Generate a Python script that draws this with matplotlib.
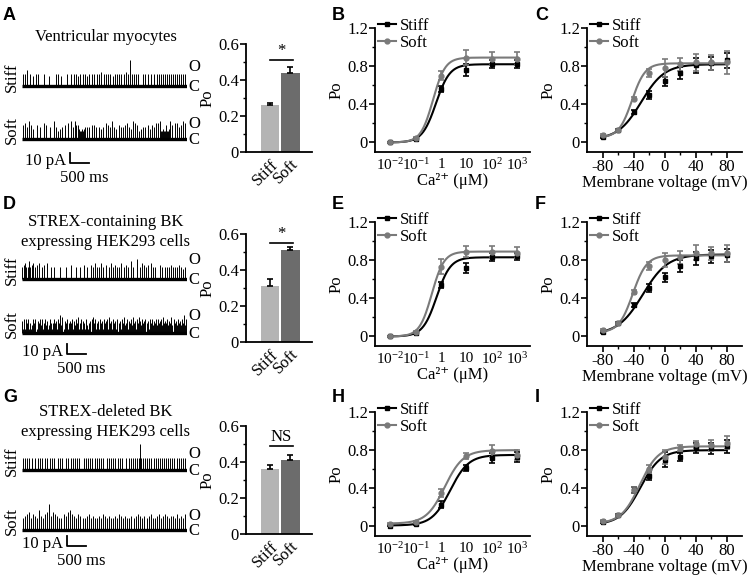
import numpy as np
import matplotlib.pyplot as plt
from matplotlib.lines import Line2D
from matplotlib.ticker import MultipleLocator, FixedLocator, FixedFormatter, NullLocator

plt.rcParams['font.family'] = ['Liberation Serif', 'DejaVu Serif']
plt.rcParams['mathtext.fontset'] = 'custom'
plt.rcParams['mathtext.rm'] = 'Liberation Serif'
plt.rcParams['mathtext.it'] = 'Liberation Serif:italic'
plt.rcParams['axes.linewidth'] = 1.3
plt.rcParams['axes.unicode_minus'] = False

# ---------------- data ----------------
conditions = ['Stiff', 'Soft']
letters = [['A', 'B', 'C'], ['D', 'E', 'F'], ['G', 'H', 'I']]
cell_titles = ['Ventricular myocytes',
               'STREX-containing BK\nexpressing HEK293 cells',
               'STREX-deleted BK\nexpressing HEK293 cells']

# single channel records: one char per column, hex digit = amplitude / 2 pA
trace_stiff = [
    "0606080060050060600000600005000000606005000060006006060506006060506006"
    "0600606070060606060050606060600607060d060606060000606060060060060606"
    "06060606060606060606060609",
    "6078606960780607080060700800600600000600000600007000060006000700600070"
    "6080606080607006080607060608006070600906000a006080706070080606000706"
    "0060606070606060706050606",
    "0606060600606006060600606006060600606060006060060606060600060606060600"
    "6060606060060606060600606060006060606060606d606060606060606060606060"
    "606060606060606060606",
]
trace_soft = [
    "0708060907050070060008070006000906040506070080090609707544545606060707"
    "0600605060080706090605070606070806050908070405060607050706080809445447"
    "44590708080607090809",
    "6272757252475726574725746247525756275948265725657264758257265274256785"
    "7256275627567285627562756275845726574856275864756756275746574756748565"
    "74658475647564759475",
    "06070809060807060a070608090d0709080706060807090a08070608070060607080607"
    "0606070608070607060607060807060706060700607080706070607080606070806070"
    "80706070706080607060807",
]

bar_po = [[0.26, 0.44], [0.31, 0.51], [0.36, 0.41]]
bar_err = [[0.015, 0.03], [0.04, 0.02], [0.025, 0.03]]
bar_sig = ['*', '*', 'NS']
bar_sig_y = [0.51, 0.55, 0.49]

ca_conc = [0.01, 0.1, 1, 10, 100, 1000]
ca_labels = ['10$^{-2}$', '10$^{-1}$', '1', '10', '10$^{2}$', '10$^{3}$']
ca_stiff = [[0.0, 0.04, 0.56, 0.76, 0.82, 0.82],
            [0.0, 0.04, 0.54, 0.72, 0.83, 0.84],
            [0.01, 0.03, 0.23, 0.61, 0.72, 0.73]]
ca_stiff_err = [[0.005, 0.01, 0.03, 0.06, 0.04, 0.04],
                [0.005, 0.01, 0.03, 0.05, 0.04, 0.04],
                [0.005, 0.01, 0.04, 0.03, 0.05, 0.05]]
ca_soft = [[0.0, 0.05, 0.70, 0.89, 0.88, 0.88],
           [0.0, 0.05, 0.73, 0.89, 0.89, 0.88],
           [0.03, 0.05, 0.35, 0.74, 0.79, 0.75]]
ca_soft_err = [[0.005, 0.01, 0.05, 0.08, 0.07, 0.07],
               [0.005, 0.01, 0.08, 0.06, 0.06, 0.06],
               [0.005, 0.01, 0.04, 0.03, 0.06, 0.05]]
# Hill fits: bottom, top, K (uM), n
ca_fit_stiff = [(0.0, 0.82, 0.63, 1.6), (0.0, 0.83, 0.67, 1.6), (0.01, 0.75, 2.3, 1.2)]
ca_fit_soft = [(0.0, 0.89, 0.48, 1.8), (0.0, 0.89, 0.43, 1.8), (0.03, 0.80, 1.4, 1.2)]

volt = [-80, -60, -40, -20, 0, 20, 40, 60, 80]
v_stiff = [[0.06, 0.13, 0.32, 0.50, 0.64, 0.73, 0.81, 0.83, 0.86],
           [0.05, 0.14, 0.33, 0.51, 0.62, 0.74, 0.82, 0.84, 0.85],
           [0.05, 0.12, 0.38, 0.53, 0.70, 0.73, 0.82, 0.82, 0.84]]
v_stiff_err = [[0.01, 0.01, 0.02, 0.04, 0.05, 0.06, 0.08, 0.07, 0.08],
               [0.01, 0.01, 0.02, 0.04, 0.05, 0.06, 0.07, 0.07, 0.07],
               [0.01, 0.01, 0.03, 0.04, 0.08, 0.04, 0.05, 0.06, 0.07]]
v_soft = [[0.08, 0.13, 0.46, 0.73, 0.78, 0.82, 0.84, 0.84, 0.84],
          [0.07, 0.14, 0.47, 0.74, 0.80, 0.83, 0.88, 0.87, 0.87],
          [0.06, 0.12, 0.38, 0.60, 0.73, 0.82, 0.86, 0.85, 0.88]]
v_soft_err = [[0.01, 0.01, 0.02, 0.04, 0.09, 0.07, 0.09, 0.08, 0.12],
              [0.01, 0.01, 0.02, 0.04, 0.07, 0.07, 0.08, 0.07, 0.09],
              [0.01, 0.01, 0.03, 0.04, 0.07, 0.03, 0.04, 0.06, 0.07]]
# Boltzmann fits: bottom, top, V1/2 (mV), slope (mV)
v_fit_stiff = [(0.03, 0.82, -30, 15), (0.02, 0.86, -28, 16), (0.02, 0.80, -31, 13)]
v_fit_soft = [(0.05, 0.83, -42, 8.5), (0.04, 0.85, -41, 9), (0.03, 0.84, -32, 12)]

# ---------------- layout ----------------
W, H = 747, 576
fig = plt.figure(figsize=(W / 100, H / 100), dpi=100)

def rect(x0, y0, x1, y1):
    return [x0 / W, 1 - y1 / H, (x1 - x0) / W, (y1 - y0) / H]

def ftext(x, y, s, **kw):
    fig.text(x / W, 1 - y / H, s, **kw)

black, grey = '#000000', '#7a7a7a'
bar_colors = ['#b4b4b4', '#6c6c6c']
fs = 12

letter_y = [15, 204, 397]
bar_off = [0, 190, 382]
curve_off = [0, 194, 384]
title_y = [37, 232, 422]
base_px = [(86, 139), (279, 333), (470, 530)]
open_dy = [(19, 15), (19, 17), (16, 14)]
sbar_y = [163, 354, 546]
sbar_x = [70, 67, 67]
trace_ms = 4400.0
tx0, tx1 = 22, 187


def style_po_axis(ax):
    for s in ['top', 'right']:
        ax.spines[s].set_visible(False)
    ax.tick_params(axis='y', which='major', length=4, width=1.2, labelsize=fs, pad=1)
    ax.tick_params(axis='y', which='minor', length=2.5, width=1.0)
    ax.set_ylabel('Po', fontsize=fs, labelpad=2)


for r in range(3):
    # panel letters
    for x, L in zip([3, 332, 535], letters[r]):
        ftext(x, letter_y[r], L, fontsize=13, fontweight='bold', family='Liberation Sans',
              ha='left', va='center')

    # ---- single channel traces ----
    top_px, bot_px = base_px[r][0] - 40, sbar_y[r] + 3
    ax = fig.add_axes(rect(tx0, top_px, tx1, bot_px))
    ax.set_xlim(0, trace_ms)
    ax.set_ylim(0, bot_px - top_px)
    ax.axis('off')
    ftext(106, title_y[r], cell_titles[r], fontsize=fs, ha='center', va='center',
          linespacing=1.25)
    for k, (code, name) in enumerate(zip([trace_stiff[r], trace_soft[r]], conditions)):
        amp = np.array([int(c, 16) for c in code]) * 2.0
        t = np.linspace(0, trace_ms, len(amp))
        b = bot_px - base_px[r][k]
        m = amp > 0
        ax.vlines(t[m], b, b + amp[m], color='k', lw=0.7)
        ax.plot([0, trace_ms], [b, b], color='k', lw=2.4, solid_capstyle='butt')
        ftext(tx1 + 1, base_px[r][k] - open_dy[r][k], 'O', fontsize=fs, ha='left', va='center')
        ftext(tx1 + 1, base_px[r][k] + 1, 'C', fontsize=fs, ha='left', va='center')
        ftext(12, base_px[r][k] - 9, name, fontsize=fs, rotation=90, ha='center', va='center')
    # scale bar 10 pA / 500 ms
    sx = (sbar_x[r] - tx0) / (tx1 - tx0) * trace_ms
    sy = bot_px - sbar_y[r]
    ax.plot([sx, sx, sx + 500], [sy + 10, sy, sy], color='k', lw=1.3, clip_on=False)
    ftext(sbar_x[r] - 4, sbar_y[r] - 2, '10 pA', fontsize=fs, ha='right', va='center')
    ftext(sbar_x[r] + 14, sbar_y[r] + 15, '500 ms', fontsize=fs, ha='center', va='center')

    # ---- bar chart ----
    oy = bar_off[r]
    ax = fig.add_axes(rect(246, 44 + oy, 312, 152 + oy))
    xb = np.arange(len(conditions))
    ax.bar(xb, bar_po[r], width=0.9, color=bar_colors,
           yerr=[[0, 0], bar_err[r]], capsize=2.5,
           error_kw=dict(elinewidth=1.2, capthick=1.2, ecolor='k'))
    ax.set_xlim(-1.17, 2.05)
    ax.set_ylim(0, 0.6)
    ax.yaxis.set_major_locator(FixedLocator([0, 0.2, 0.4, 0.6]))
    ax.yaxis.set_major_formatter(FixedFormatter(['0', '0.2', '0.4', '0.6']))
    ax.yaxis.set_minor_locator(MultipleLocator(0.1))
    ax.set_xticks(xb)
    ax.set_xticklabels(conditions, rotation=45, ha='right', rotation_mode='anchor', fontsize=fs)
    ax.tick_params(axis='x', length=0, pad=3)
    style_po_axis(ax)
    ax.plot([0, 1.1], [bar_sig_y[r]] * 2, color='k', lw=1.2, clip_on=False)
    ax.text(0.55, bar_sig_y[r] + 0.005, bar_sig[r], ha='center', va='bottom', fontsize=fs)

    # ---- Ca2+ dependence ----
    oy = curve_off[r]
    ax = fig.add_axes(rect(375, 28 + oy, 530, 152 + oy))
    ax.set_xscale('log')
    cc = np.logspace(-2, 3, 300)
    for vals, errs, fit, col, mk in [(ca_stiff[r], ca_stiff_err[r], ca_fit_stiff[r], black, 's'),
                                     (ca_soft[r], ca_soft_err[r], ca_fit_soft[r], grey, 'o')]:
        lo, hi, K, n = fit
        ax.plot(cc, lo + (hi - lo) * cc ** n / (K ** n + cc ** n), color=col, lw=1.5)
        ax.errorbar(ca_conc, vals, yerr=errs, fmt=mk, color=col, ms=3.5,
                    capsize=2.5, elinewidth=1.2, capthick=1.2)
    ax.set_xlim(10 ** -2.6, 10 ** 3.5)
    ax.xaxis.set_major_locator(FixedLocator(ca_conc))
    ax.xaxis.set_major_formatter(FixedFormatter(ca_labels))
    ax.xaxis.set_minor_locator(NullLocator())
    ax.tick_params(axis='x', length=0, pad=4, labelsize=11)
    ax.set_xlabel('Ca\u00b2\u207a (\u03bcM)', fontsize=fs, labelpad=0)
    ax.set_ylim(-0.1, 1.2)
    ax.yaxis.set_major_locator(FixedLocator([0, 0.4, 0.8, 1.2]))
    ax.yaxis.set_major_formatter(FixedFormatter(['0', '0.4', '0.8', '1.2']))
    ax.yaxis.set_minor_locator(MultipleLocator(0.2))
    style_po_axis(ax)
    handles = [Line2D([], [], color=black, marker='s', ms=3.5, lw=1.5),
               Line2D([], [], color=grey, marker='o', ms=3.5, lw=1.5)]
    ax.legend(handles, conditions, loc='upper left', bbox_to_anchor=(0.02, 1.08),
              frameon=False, fontsize=fs, handlelength=1.1, handletextpad=0.2,
              labelspacing=0.05, borderpad=0, borderaxespad=0)

    # ---- voltage dependence ----
    ax = fig.add_axes(rect(587, 28 + oy, 742, 152 + oy))
    vv = np.linspace(-80, 80, 300)
    for vals, errs, fit, col, mk in [(v_stiff[r], v_stiff_err[r], v_fit_stiff[r], black, 's'),
                                     (v_soft[r], v_soft_err[r], v_fit_soft[r], grey, 'o')]:
        lo, hi, vh, k = fit
        ax.plot(vv, lo + (hi - lo) / (1 + np.exp((vh - vv) / k)), color=col, lw=1.5)
        ax.errorbar(volt, vals, yerr=errs, fmt=mk, color=col, ms=3.5,
                    capsize=2.5, elinewidth=1.2, capthick=1.2)
    ax.set_xlim(-100, 100)
    ax.xaxis.set_major_locator(FixedLocator([-80, -40, 0, 40, 80]))
    ax.xaxis.set_major_formatter(FixedFormatter(['-80', '-40', '0', '40', '80']))
    ax.xaxis.set_minor_locator(FixedLocator([-60, -20, 20, 60]))
    ax.tick_params(axis='x', which='major', length=4, width=1.2, pad=1, labelsize=fs)
    ax.tick_params(axis='x', which='minor', length=2.5, width=1.0)
    ax.set_xlabel('Membrane voltage (mV)', fontsize=fs, labelpad=0)
    ax.set_ylim(-0.1, 1.2)
    ax.yaxis.set_major_locator(FixedLocator([0, 0.4, 0.8, 1.2]))
    ax.yaxis.set_major_formatter(FixedFormatter(['0', '0.4', '0.8', '1.2']))
    ax.yaxis.set_minor_locator(MultipleLocator(0.2))
    style_po_axis(ax)
    ax.legend(handles, conditions, loc='upper left', bbox_to_anchor=(0.02, 1.08),
              frameon=False, fontsize=fs, handlelength=1.1, handletextpad=0.2,
              labelspacing=0.05, borderpad=0, borderaxespad=0)

fig.savefig('out.png', dpi=100)
